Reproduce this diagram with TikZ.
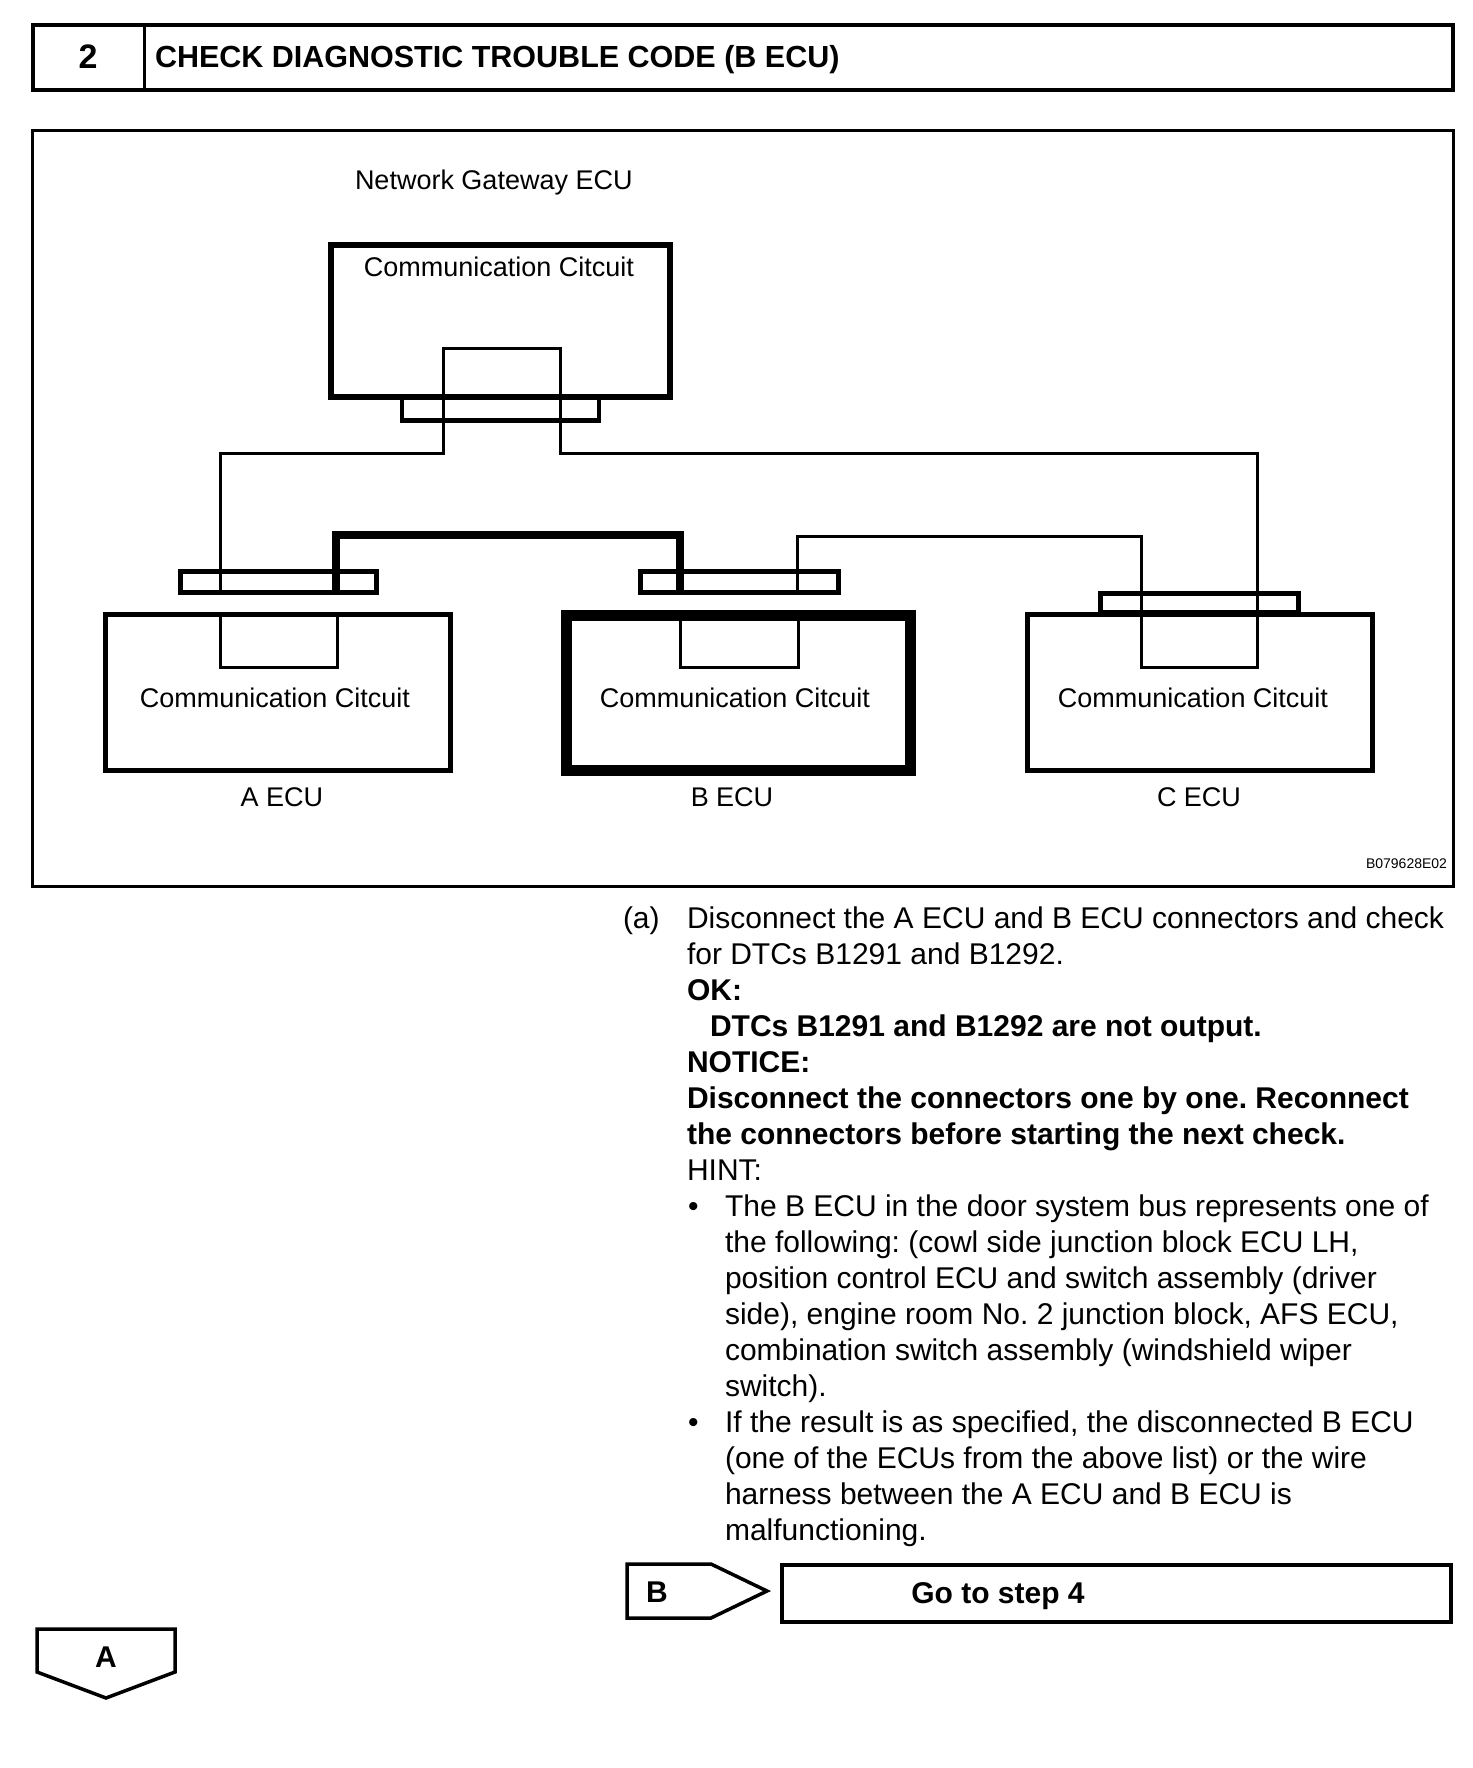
\documentclass[tikz,border=0pt]{standalone}
\usepackage{fontspec}
\setmainfont{Liberation Sans}
\frenchspacing
\begin{document}
\begin{tikzpicture}[x=1pt,y=-1pt,
  every node/.style={inner sep=0pt, outer sep=0pt},
  body/.style={font=\fontsize{30}{36}\selectfont, anchor=base west},
  bodyb/.style={font=\fontsize{30}{36}\selectfont\bfseries, anchor=base west},
  dia/.style={font=\fontsize{27}{32}\selectfont, anchor=base},
  wire/.style={line width=3pt},
  bus/.style={line width=8pt},
  conn/.style={line width=4.5pt},
  ecubox/.style={line width=5pt},
  ecubold/.style={line width=11pt},
  tag/.style={line width=3.5pt, line join=miter},
  tagtext/.style={font=\fontsize{30}{36}\selectfont\bfseries, anchor=base}]
\useasboundingbox (0,0) rectangle (1472,1768);
\fill[white] (0,0) rectangle (1472,1768);

% header
\draw[line width=4pt] (33,25) rectangle (1453,90);
\draw[line width=3pt] (144,25) -- (144,90);
\node[font=\fontsize{34}{40}\selectfont\bfseries, anchor=base] (num) at (88,69) {2};
\node[font=\fontsize{30.5}{36}\selectfont\bfseries, anchor=base west] (title) at (155,68) {CHECK DIAGNOSTIC TROUBLE CODE (B ECU)};

% diagram frame
\draw[line width=3pt] (32,131) rectangle (1453,886);
\node[font=\fontsize{27}{32}\selectfont, anchor=base west] (gwlabel) at (355,190) {Network Gateway ECU};

% gateway
\draw[line width=6pt] (331,245.5) rectangle (670,396.5);
\node[dia] (gwcc) at (499,277) {Communication Citcuit};
\draw[conn] (402,398) rectangle (599,420.5);

% wires
\coordinate (wA) at (220,592);
\coordinate (wAt) at (220,453);
\coordinate (gL) at (443,453);
\coordinate (gLt) at (443,348);
\coordinate (gRt) at (560,348);
\coordinate (gR) at (560,453);
\coordinate (cR) at (1257,453);
\coordinate (cRb) at (1257,667);
\coordinate (cLb) at (1141,667);
\coordinate (cL) at (1141,536);
\coordinate (bRt) at (797,536);
\coordinate (bR) at (797,592);
\draw[wire] (wA) -- (wAt) -- (gL) -- (gLt) -- (gRt) -- (gR) -- (cR) -- (cRb) -- (cLb) -- (cL) -- (bRt) -- (bR);

% thick bus A-B
\coordinate (busA) at (336,592);
\coordinate (busB) at (680,592);
\draw[bus] (busA) -- (336,535) -- (680,535) -- (busB);

% connectors
\draw[conn] (180.5,571.5) rectangle (376.5,592.5);
\draw[conn] (640.5,571.5) rectangle (838.5,592.5);
\draw[conn] (1100.5,593.5) rectangle (1298.5,612);

% ECU boxes
\draw[ecubox] (105.5,614.5) rectangle (450.5,770.5);
\draw[wire] (220,614) -- (220,667) -- (337,667) -- (337,614);
\draw[ecubold] (566.5,615.5) rectangle (910.5,770.5);
\draw[wire] (680,618) -- (680,667) -- (798,667) -- (798,618);
\draw[ecubox] (1027.5,614.5) rectangle (1372.5,770.5);

\node[dia] (acc) at (275,707) {Communication Citcuit};
\node[dia] (bcc) at (735,707) {Communication Citcuit};
\node[dia] (ccc) at (1193,707) {Communication Citcuit};
\node[dia] (alab) at (282,806) {A ECU};
\node[dia] (blab) at (732,806) {B ECU};
\node[dia] (clab) at (1199,806) {C ECU};
\node[font=\fontsize{14}{16}\selectfont, anchor=base east] (code) at (1447,868) {B079628E02};

% body text
\node[body] (la) at (623,928) {(a)};
\node[body] (l0) at (687,928) {Disconnect the A ECU and B ECU connectors and check};
\node[body] (l1) at (687,964) {for DTCs B1291 and B1292.};
\node[bodyb] (l2) at (687,1000) {OK:};
\node[bodyb] (l3) at (710,1036) {DTCs B1291 and B1292 are not output.};
\node[bodyb] (l4) at (687,1072) {NOTICE:};
\node[bodyb] (l5) at (687,1108) {Disconnect the connectors one by one. Reconnect};
\node[bodyb] (l6) at (687,1144) {the connectors before starting the next check.};
\node[body] (l7) at (687,1180) {HINT:};
\node[body] (b1) at (688,1216) {\textbullet};
\node[body] (l8) at (725,1216) {The B ECU in the door system bus represents one of};
\node[body] (l9) at (725,1252) {the following: (cowl side junction block ECU LH,};
\node[body] (l10) at (725,1288) {position control ECU and switch assembly (driver};
\node[body] (l11) at (725,1324) {side), engine room No. 2 junction block, AFS ECU,};
\node[body] (l12) at (725,1360) {combination switch assembly (windshield wiper};
\node[body] (l13) at (725,1396) {switch).};
\node[body] (b2) at (688,1432) {\textbullet};
\node[body] (l14) at (725,1432) {If the result is as specified, the disconnected B ECU};
\node[body] (l15) at (725,1468) {(one of the ECUs from the above list) or the wire};
\node[body] (l16) at (725,1504) {harness between the A ECU and B ECU is};
\node[body] (l17) at (725,1540) {malfunctioning.};

% B tag and go-to box
\draw[tag] (627,1564) -- (711,1564) -- (767,1591) -- (711,1618) -- (627,1618) -- cycle;
\node[tagtext] (btag) at (657,1602) {B};
\draw[line width=4pt] (782,1565) rectangle (1451,1622);
\node[tagtext] (goto) at (998,1603) {Go to step 4};

% A tag
\draw[tag] (37,1629) -- (175,1629) -- (175,1672) -- (106,1698) -- (37,1672) -- cycle;
\node[tagtext] (atag) at (106,1667) {A};
\end{tikzpicture}
\end{document}
